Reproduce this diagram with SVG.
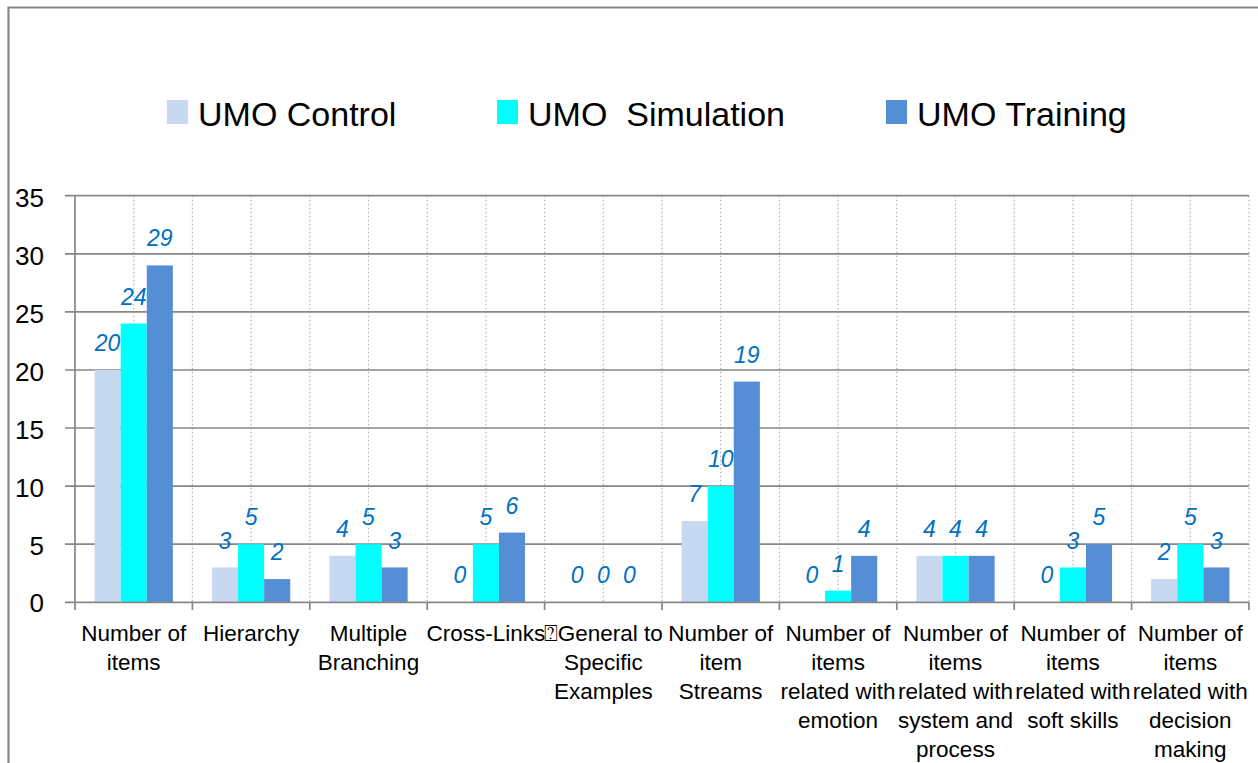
<svg xmlns="http://www.w3.org/2000/svg" width="1258" height="763" viewBox="0 0 1258 763">
<style>
.grid{stroke:#878787;stroke-width:1.7;fill:none}
.minor{stroke:#b0b0b0;stroke-width:1.2;stroke-dasharray:1.5 2.5;fill:none}
.c{fill:#c6d9f0}
.s{fill:#00ffff}
.t{fill:#558ed5}
.val{font-family:"Liberation Sans",Arial,sans-serif;font-style:italic;font-size:23px;fill:#0070c0;text-anchor:middle}
.ytick{font-family:"Liberation Sans",Arial,sans-serif;font-size:26px;fill:#000;text-anchor:end}
.xlab{font-family:"Liberation Sans",Arial,sans-serif;font-size:22.5px;fill:#000;text-anchor:middle}
.leg{font-family:"Liberation Sans",Arial,sans-serif;font-size:34px;fill:#000;white-space:pre}
</style>
<rect width="1258" height="763" fill="#fff"/>
<g id="frame">
<path d="M8.5 763 V7.5 H1258" stroke="#878787" stroke-width="2.2" fill="none"/>
</g>
<g id="legend">
<rect class="c" x="167" y="100" width="21" height="24"/>
<text class="leg" x="198" y="126">UMO Control</text>
<rect class="s" x="497" y="100" width="21" height="24"/>
<text class="leg" x="528" y="126">UMO  Simulation</text>
<rect class="t" x="886" y="100" width="21" height="24"/>
<text class="leg" x="917" y="126">UMO Training</text>
</g>
<g id="gridlines">
<path class="minor" d="M133.7 195.7V602.3M192.4 195.7V602.3M251.1 195.7V602.3M309.8 195.7V602.3M368.5 195.7V602.3M427.2 195.7V602.3M485.9 195.7V602.3M544.6 195.7V602.3M603.3 195.7V602.3M662 195.7V602.3M720.7 195.7V602.3M779.4 195.7V602.3M838.1 195.7V602.3M896.8 195.7V602.3M955.5 195.7V602.3M1014.2 195.7V602.3M1072.9 195.7V602.3M1131.6 195.7V602.3M1190.3 195.7V602.3M1249 195.7V602.3"/>
<path class="grid" d="M65 195.7H1249M65 253.8H1249M65 311.9H1249M65 370H1249M65 428H1249M65 486.1H1249M65 544.2H1249"/>
</g>
<g id="ylabels">
<text class="ytick" x="44" y="207">35</text>
<text class="ytick" x="44" y="265">30</text>
<text class="ytick" x="44" y="323">25</text>
<text class="ytick" x="44" y="381">20</text>
<text class="ytick" x="44" y="439">15</text>
<text class="ytick" x="44" y="497">10</text>
<text class="ytick" x="44" y="555">5</text>
<text class="ytick" x="44" y="612">0</text>
</g>
<g id="bars">
<rect class="c" x="94.57" y="369.96" width="26.09" height="232.34"/>
<rect class="s" x="120.66" y="323.49" width="26.09" height="278.81"/>
<rect class="t" x="146.75" y="265.41" width="26.09" height="336.89"/>
<rect class="c" x="211.97" y="567.45" width="26.09" height="34.85"/>
<rect class="s" x="238.06" y="544.21" width="26.09" height="58.09"/>
<rect class="t" x="264.15" y="579.07" width="26.09" height="23.23"/>
<rect class="c" x="329.37" y="555.83" width="26.09" height="46.47"/>
<rect class="s" x="355.46" y="544.21" width="26.09" height="58.09"/>
<rect class="t" x="381.55" y="567.45" width="26.09" height="34.85"/>
<rect class="s" x="472.86" y="544.21" width="26.09" height="58.09"/>
<rect class="t" x="498.95" y="532.6" width="26.09" height="69.7"/>
<rect class="c" x="681.57" y="520.98" width="26.09" height="81.32"/>
<rect class="s" x="707.66" y="486.13" width="26.09" height="116.17"/>
<rect class="t" x="733.75" y="381.58" width="26.09" height="220.72"/>
<rect class="s" x="825.06" y="590.68" width="26.09" height="11.62"/>
<rect class="t" x="851.15" y="555.83" width="26.09" height="46.47"/>
<rect class="c" x="916.37" y="555.83" width="26.09" height="46.47"/>
<rect class="s" x="942.46" y="555.83" width="26.09" height="46.47"/>
<rect class="t" x="968.55" y="555.83" width="26.09" height="46.47"/>
<rect class="s" x="1059.86" y="567.45" width="26.09" height="34.85"/>
<rect class="t" x="1085.95" y="544.21" width="26.09" height="58.09"/>
<rect class="c" x="1151.17" y="579.07" width="26.09" height="23.23"/>
<rect class="s" x="1177.26" y="544.21" width="26.09" height="58.09"/>
<rect class="t" x="1203.35" y="567.45" width="26.09" height="34.85"/>
</g>
<g id="axes">
<path class="grid" d="M75 195.7V602.3M65 602.3H1249M75 602.3V610M192.4 602.3V610M309.8 602.3V610M427.2 602.3V610M544.6 602.3V610M662 602.3V610M779.4 602.3V610M896.8 602.3V610M1014.2 602.3V610M1131.6 602.3V610M1249 602.3V610"/>
</g>
<g id="values">
<text class="val" x="107.6" y="351">20</text>
<text class="val" x="133.7" y="304.5">24</text>
<text class="val" x="159.8" y="246.4">29</text>
<text class="val" x="225" y="548.5">3</text>
<text class="val" x="251.1" y="525.2">5</text>
<text class="val" x="277.2" y="560.1">2</text>
<text class="val" x="342.4" y="536.8">4</text>
<text class="val" x="368.5" y="525.2">5</text>
<text class="val" x="394.6" y="548.5">3</text>
<text class="val" x="459.8" y="583.3">0</text>
<text class="val" x="485.9" y="525.2">5</text>
<text class="val" x="512" y="513.6">6</text>
<text class="val" x="577.2" y="583.3">0</text>
<text class="val" x="603.3" y="583.3">0</text>
<text class="val" x="629.4" y="583.3">0</text>
<text class="val" x="694.6" y="502">7</text>
<text class="val" x="720.7" y="467.1">10</text>
<text class="val" x="746.8" y="362.6">19</text>
<text class="val" x="812" y="583.3">0</text>
<text class="val" x="838.1" y="571.7">1</text>
<text class="val" x="864.2" y="536.8">4</text>
<text class="val" x="929.4" y="536.8">4</text>
<text class="val" x="955.5" y="536.8">4</text>
<text class="val" x="981.6" y="536.8">4</text>
<text class="val" x="1046.8" y="583.3">0</text>
<text class="val" x="1072.9" y="548.5">3</text>
<text class="val" x="1099" y="525.2">5</text>
<text class="val" x="1164.2" y="560.1">2</text>
<text class="val" x="1190.3" y="525.2">5</text>
<text class="val" x="1216.4" y="548.5">3</text>
</g>
<g id="xlabels">
<text class="xlab" x="133.7" y="641">Number of</text>
<text class="xlab" x="133.7" y="670">items</text>
<text class="xlab" x="251.1" y="641">Hierarchy</text>
<text class="xlab" x="368.5" y="641">Multiple</text>
<text class="xlab" x="368.5" y="670">Branching</text>
<text class="xlab" x="485.9" y="641">Cross-Links</text>
<text class="xlab" x="603.3" y="641">⍰General to</text>
<text class="xlab" x="603.3" y="670">Specific</text>
<text class="xlab" x="603.3" y="699">Examples</text>
<text class="xlab" x="720.7" y="641">Number of</text>
<text class="xlab" x="720.7" y="670">item</text>
<text class="xlab" x="720.7" y="699">Streams</text>
<text class="xlab" x="838.1" y="641">Number of</text>
<text class="xlab" x="838.1" y="670">items</text>
<text class="xlab" x="838.1" y="699">related with</text>
<text class="xlab" x="838.1" y="728">emotion</text>
<text class="xlab" x="955.5" y="641">Number of</text>
<text class="xlab" x="955.5" y="670">items</text>
<text class="xlab" x="955.5" y="699">related with</text>
<text class="xlab" x="955.5" y="728">system and</text>
<text class="xlab" x="955.5" y="757">process</text>
<text class="xlab" x="1072.9" y="641">Number of</text>
<text class="xlab" x="1072.9" y="670">items</text>
<text class="xlab" x="1072.9" y="699">related with</text>
<text class="xlab" x="1072.9" y="728">soft skills</text>
<text class="xlab" x="1190.3" y="641">Number of</text>
<text class="xlab" x="1190.3" y="670">items</text>
<text class="xlab" x="1190.3" y="699">related with</text>
<text class="xlab" x="1190.3" y="728">decision</text>
<text class="xlab" x="1190.3" y="757">making</text>
</g>
</svg>
